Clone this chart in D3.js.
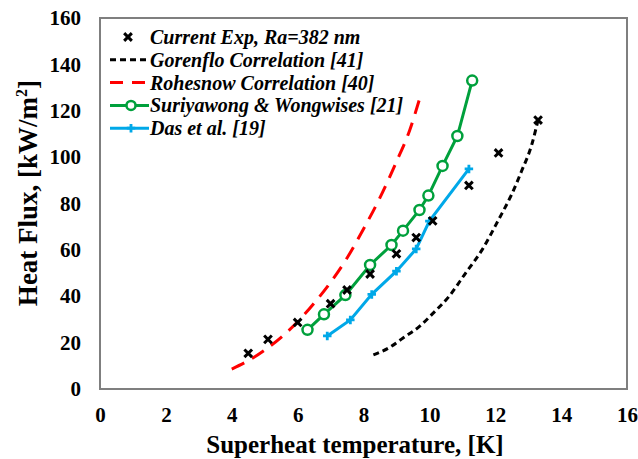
<!DOCTYPE html>
<html>
<head>
<meta charset="utf-8">
<script src="https://cdn.jsdelivr.net/npm/d3@7"></script>
<style>
body { margin: 0; background: #fff; }
text { font-family: "Liberation Serif", "Times New Roman", serif; font-weight: bold; }
</style>
</head>
<body>
<div id="chart"></div>
<script>
// current experiment, Ra = 382 nm
var expX = [4.5, 5.1, 6.0, 7.0, 7.5, 8.2, 9.0, 9.6, 10.1, 11.2, 12.1, 13.3]
var expY = [15.4, 21.4, 28.7, 36.8, 42.7, 49.6, 58.3, 65.3, 72.5, 87.8, 101.8, 116]

// Gorenflo correlation [41]
var gorX = [8.3, 8.8, 9.2, 9.7, 10.1, 10.6, 11.1, 11.6, 12.1, 12.5, 12.8, 13.1, 13.3]
var gorY = [14.7, 18, 22, 27, 32.5, 40, 50, 60, 73, 84, 94, 105, 116]

// Rohesnow correlation [40]
var rohX = [4.0, 4.5, 5.0, 5.5, 6.0, 6.5, 7.0, 7.5, 8.0, 8.5, 9.0, 9.4, 9.7]
var rohY = [8.6, 12.2, 16.8, 22.3, 29, 37, 46, 56.5, 69, 82.5, 98, 111.5, 125]

// Suriyawong & Wongwises [21]
var surX = [6.3, 6.8, 7.45, 8.2, 8.85, 9.2, 9.7, 9.97, 10.4, 10.85, 11.3]
var surY = [25.5, 32.2, 40.5, 53.5, 62.1, 68.3, 77.2, 83.4, 96.2, 109.1, 133]

// Das et al. [19]
var dasX = [6.9, 7.6, 8.25, 9.0, 9.6, 10.0, 11.2]
var dasY = [22.9, 29.8, 40.8, 50.8, 60.4, 72.4, 94.9]

var xTicks = [0, 2, 4, 6, 8, 10, 12, 14, 16]
var yTicks = [0, 20, 40, 60, 80, 100, 120, 140, 160]

var width = 638, height = 459
var margin = {left: 100, top: 18, right: 11, bottom: 70}

var svg = d3.select("#chart").append("svg").attr("width", width).attr("height", height)

var x = d3.scaleLinear().domain([0, 16]).range([margin.left, width - margin.right])
var y = d3.scaleLinear().domain([0, 160]).range([height - margin.bottom, margin.top])

function pts(xs, ys) {
    return xs.map(function(d, i){ return [d, ys[i]] })
}

var green = "#00a03c", blue = "#00a8e8", red = "#ff0000"

// frame
svg.append("rect").attr("x", x(0)).attr("y", y(160))
    .attr("width", x(16) - x(0)).attr("height", y(0) - y(160))
    .attr("fill", "none").attr("stroke", "#7f7f7f").attr("stroke-width", 2)

// axes, tick labels only
svg.append("g").attr("transform", "translate(0," + y(0) + ")")
    .call(d3.axisBottom(x).tickValues(xTicks).tickSize(0).tickPadding(18))
svg.append("g").attr("transform", "translate(" + x(0) + ",0)")
    .call(d3.axisLeft(y).tickValues(yTicks).tickSize(0).tickPadding(19))
svg.selectAll(".domain").remove()
svg.selectAll(".tick text").attr("font-size", "21px").attr("fill", "#000")

// axis titles
svg.append("text").attr("x", 355).attr("y", 453).attr("text-anchor", "middle")
    .attr("font-size", "25px").text("Superheat temperature, [K]")

var yt = svg.append("text").attr("transform", "translate(37,193) rotate(-90)")
    .attr("text-anchor", "middle").attr("font-size", "27px")
yt.append("tspan").text("Heat Flux, [kW/m")
yt.append("tspan").attr("font-size", "16px").attr("dy", -10).text("2")
yt.append("tspan").attr("dy", 10).text("]")

var line = d3.line().x(function(d){ return x(d[0]) }).y(function(d){ return y(d[1]) })
var curve = d3.line().curve(d3.curveMonotoneX).x(function(d){ return x(d[0]) }).y(function(d){ return y(d[1]) })

svg.append("path").attr("d", curve(pts(rohX, rohY))).attr("fill", "none")
    .attr("stroke", red).attr("stroke-width", 3).attr("stroke-dasharray", "14,9")
svg.append("path").attr("d", curve(pts(gorX, gorY))).attr("fill", "none")
    .attr("stroke", "#000").attr("stroke-width", 3).attr("stroke-dasharray", "6,4")

svg.append("path").attr("d", line(pts(surX, surY))).attr("fill", "none")
    .attr("stroke", green).attr("stroke-width", 3)
svg.append("path").attr("d", line(pts(dasX, dasY))).attr("fill", "none")
    .attr("stroke", blue).attr("stroke-width", 3)

var cross = d3.symbol().type(d3.symbolX).size(40)
var plus = d3.symbol().type(d3.symbolCross).size(40)

svg.selectAll(".sur").data(pts(surX, surY)).enter().append("circle")
    .attr("cx", function(d){ return x(d[0]) }).attr("cy", function(d){ return y(d[1]) })
    .attr("r", 5).attr("fill", "#fff").attr("stroke", green).attr("stroke-width", 2.5)

svg.selectAll(".das").data(pts(dasX, dasY)).enter().append("path")
    .attr("d", plus).attr("transform", function(d){ return "translate(" + x(d[0]) + "," + y(d[1]) + ")" })
    .attr("fill", blue)

svg.selectAll(".exp").data(pts(expX, expY)).enter().append("path")
    .attr("d", cross).attr("transform", function(d){ return "translate(" + x(d[0]) + "," + y(d[1]) + ")" })
    .attr("fill", "none").attr("stroke", "#000").attr("stroke-width", 3)

// legend
var legend = [
    {name: "Current Exp, Ra=382 nm", kind: "exp"},
    {name: "Gorenflo Correlation [41]", kind: "gor"},
    {name: "Rohesnow Correlation [40]", kind: "roh"},
    {name: "Suriyawong & Wongwises [21]", kind: "sur"},
    {name: "Das et al. [19]", kind: "das"}
]
var lg = svg.append("g")
legend.forEach(function(d, i){
    var yy = 37 + i * 22.8
    var g = lg.append("g").attr("transform", "translate(0," + yy + ")")
    if (d.kind == "exp") {
        g.append("path").attr("d", cross).attr("transform", "translate(128,0)")
            .attr("fill", "none").attr("stroke", "#000").attr("stroke-width", 3)
    } else if (d.kind == "gor") {
        g.append("line").attr("x1", 110).attr("x2", 149).attr("stroke", "#000")
            .attr("stroke-width", 3).attr("stroke-dasharray", "6,4")
    } else if (d.kind == "roh") {
        g.append("line").attr("x1", 110).attr("x2", 149).attr("stroke", red)
            .attr("stroke-width", 3).attr("stroke-dasharray", "13,9")
    } else if (d.kind == "sur") {
        g.append("line").attr("x1", 110).attr("x2", 149).attr("stroke", green).attr("stroke-width", 3)
        g.append("circle").attr("cx", 131).attr("r", 4.5).attr("fill", "#fff")
            .attr("stroke", green).attr("stroke-width", 2.5)
    } else {
        g.append("line").attr("x1", 110).attr("x2", 149).attr("stroke", blue).attr("stroke-width", 3)
        g.append("path").attr("d", plus).attr("transform", "translate(131,0)").attr("fill", blue)
    }
    g.append("text").attr("x", 150).attr("y", 7).attr("font-size", "20px")
        .attr("font-style", "italic").text(d.name)
})
</script>
</body>
</html>
